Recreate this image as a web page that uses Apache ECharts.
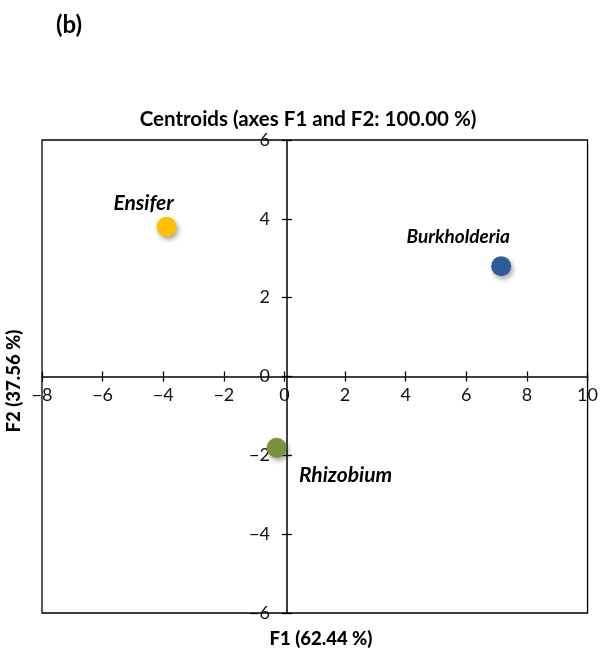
<!DOCTYPE html>
<html><head><meta charset="utf-8">
<script src="https://cdn.jsdelivr.net/npm/echarts@6/dist/echarts.min.js"></script>
<style>html,body{margin:0;padding:0;background:#fff}#c{width:601px;height:648px}</style>
</head><body><div id="c"></div>
<script>
const names = ['Ensifer', 'Burkholderia', 'Rhizobium'];
const f1 = [-3.89, 7.15, -0.26];
const f2 = [3.80, 2.80, -1.81];
const xTicks = [-8, 10, 2];
const yTicks = [-6, 6, 2];
const colors = ['#FFC000', '#2F5D99', '#77933C'];
const labelPos = [[-23, -23], [-43, -29], [69, 27]];

const FONT = 'Lato';
const W = 601, H = 648, GL = 42, GR = 8, GT = 140, GB = 35;
const pw = W - GL - GR, ph = H - GT - GB;
const xOff = -(0 - yTicks[0]) / (yTicks[1] - yTicks[0]) * ph;
const yOff = -(0 - xTicks[0]) / (xTicks[1] - xTicks[0]) * pw;
const fmt = v => v < 0 ? '\u2212' + Math.abs(v) : '' + v;

const chart = echarts.init(document.getElementById('c'));
const series = names.map((n, i) => ({
  type: 'scatter',
  name: n,
  data: [[f1[i], f2[i]]],
  symbolSize: 20,
  z: 5,
  itemStyle: { color: colors[i], opacity: 1, shadowBlur: 5, shadowOffsetX: 2, shadowOffsetY: 3, shadowColor: 'rgba(0,0,0,0.35)' },
  label: {
    show: true, formatter: n, position: 'inside', offset: labelPos[i],
    fontFamily: FONT, fontWeight: 'bold', fontStyle: 'italic', fontSize: i === 1 ? 19 : 21, color: '#000'
  },
  emphasis: { disabled: true }
}));
const axBase = (ticks, off, pos, labels, margin) => ({
  type: 'value', min: ticks[0], max: ticks[1], interval: ticks[2], position: pos, offset: off,
  axisLine: { show: labels, onZero: false, lineStyle: { color: '#000', width: 1.5 } },
  axisTick: { show: true, inside: !labels, length: 5, lineStyle: { color: '#000', width: 1.3 } },
  axisLabel: { show: labels, fontFamily: FONT, fontSize: 18, color: '#111', margin: margin, formatter: fmt },
  splitLine: { show: false }
});
chart.setOption({
  animation: false,
  title: [
    { text: '(b)', left: 51, top: 8, textStyle: { fontFamily: FONT, fontWeight: 'bold', fontSize: 24, color: '#000' } },
    { text: 'Centroids (axes F1 and F2: 100.00 %)', left: 303, textAlign: 'center', top: 104, textStyle: { fontFamily: FONT, fontWeight: 'bold', fontSize: 20.5, color: '#000' } },
    { text: 'F1 (62.44 %)', left: 316, top: 625, textAlign: 'center', textStyle: { fontFamily: FONT, fontWeight: 900, fontSize: 18.5, color: '#000' } }
  ],
  graphic: [{
    type: 'text', x: 14, y: 381, rotation: Math.PI / 2,
    style: { text: 'F2 (37.56 %)', fontFamily: FONT, fontWeight: 900, fontSize: 18.5, fill: '#000', align: 'center', verticalAlign: 'middle' }
  }],
  grid: { left: GL, right: GR, top: GT, bottom: GB, show: true, borderColor: '#000', borderWidth: 1.3 },
  xAxis: [axBase(xTicks, xOff, 'bottom', true, 10), axBase(xTicks, xOff, 'bottom', false, 10)],
  yAxis: [axBase(yTicks, yOff, 'left', true, 17), axBase(yTicks, yOff, 'left', false, 17)],
  series: series
});
</script></body></html>
